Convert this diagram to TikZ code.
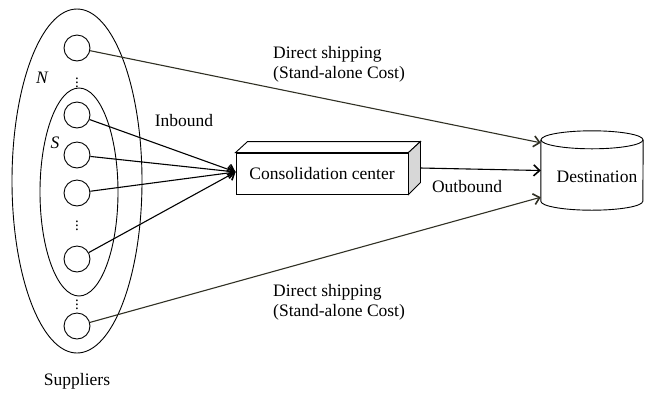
\documentclass[tikz,border=0pt]{standalone}
\usepackage{fontspec}
\setmainfont{Liberation Serif}
\usetikzlibrary{arrows.meta,calc}
\definecolor{dirline}{RGB}{48,48,36}
\definecolor{sideface}{RGB}{215,215,215}
\begin{document}
\begin{tikzpicture}[x=1pt,y=-1pt,
  lbl/.style={font=\fontsize{17.5}{19.5}\selectfont, inner sep=0pt},
  supp/.style={draw, circle, minimum size=26pt, inner sep=0pt, line width=0.9pt},
  dotsnode/.style={inner sep=0pt, font=\fontsize{15}{15}\selectfont\boldmath},
  flow/.style={line width=1.1pt, -{Straight Barb[length=6pt,width=11pt,line width=1.6pt]}},
  direct/.style={flow, draw=dirline}]
\useasboundingbox (0,0) rectangle (647,392);

% supplier sets
\draw[line width=0.9pt] (77,181) ellipse [x radius=65pt, y radius=172pt];
\draw[line width=0.9pt] (79,192) ellipse [x radius=39pt, y radius=104pt];
\node[lbl, font=\fontsize{17.5}{19.5}\selectfont\itshape] (setN) at (42,78) {N};
\node[lbl, font=\fontsize{17.5}{19.5}\selectfont\itshape] (setS) at (55,143) {S};

% suppliers
\node[supp] (c1) at (77,48) {};
\node[supp] (c2) at (77,115) {};
\node[supp] (c3) at (77,155) {};
\node[supp] (c4) at (77,193) {};
\node[supp] (c5) at (77,259) {};
\node[supp] (c6) at (77,326) {};
\node[dotsnode] (d1) at (77,80) {$\vdots$};
\node[dotsnode] (d2) at (77,223) {$\vdots$};
\node[dotsnode] (d3) at (77,302) {$\vdots$};
\node[lbl] (supl) at (77,381) {Suppliers};

% consolidation center (box)
\node[draw, line width=0.9pt, minimum width=172pt, minimum height=41pt, inner sep=0pt,
      lbl] (cc) at (322,173.5) {Consolidation center};
\draw[line width=0.9pt, fill=white] (cc.north west) -- ++(12,-11)
  -- ([shift={(12pt,11pt)}]cc.north east) -- (cc.north east) -- cycle;
\draw[line width=0.9pt, fill=sideface] (cc.north east) -- ++(12,-11) -- ++(0,41)
  -- (cc.south east) -- cycle;
\coordinate (ccout) at ([shift={(12pt,5.5pt)}]cc.east);
\coordinate (ccin) at ([yshift=1.5pt]cc.west);

% destination (cylinder)
\node[minimum width=102pt, minimum height=61pt, inner sep=0pt] (dest) at (592,170.5) {};
\draw[line width=0.9pt, fill=white] (dest.north west) -- (dest.south west)
  arc[start angle=180, end angle=360, x radius=51pt, y radius=9pt]
  -- (dest.north east);
\draw[line width=0.9pt] (dest.north) ellipse [x radius=51pt, y radius=9pt];
\node[lbl] (destlbl) at (597,177) {Destination};
\coordinate (dtop) at ([yshift=-3pt]dest.north west);
\coordinate (dbot) at ([yshift=4pt]dest.south west);

% flows
\foreach \s in {c2,c3,c4,c5} \draw[flow] (\s) -- (ccin);
\draw[flow] (ccout) -- (dest.west);
\draw[direct] (c1) -- (dtop);
\draw[direct] (c6) -- (dbot);

% labels
\node[lbl] (inb) at (184,121) {Inbound};
\node[lbl] (outb) at (467,187) {Outbound};
\node[lbl, anchor=west, align=left] (dsTop) at (273,64.5) {Direct shipping\\(Stand-alone Cost)};
\node[lbl, anchor=west, align=left] (dsBot) at (273,302.5) {Direct shipping\\(Stand-alone Cost)};
\end{tikzpicture}
\end{document}
